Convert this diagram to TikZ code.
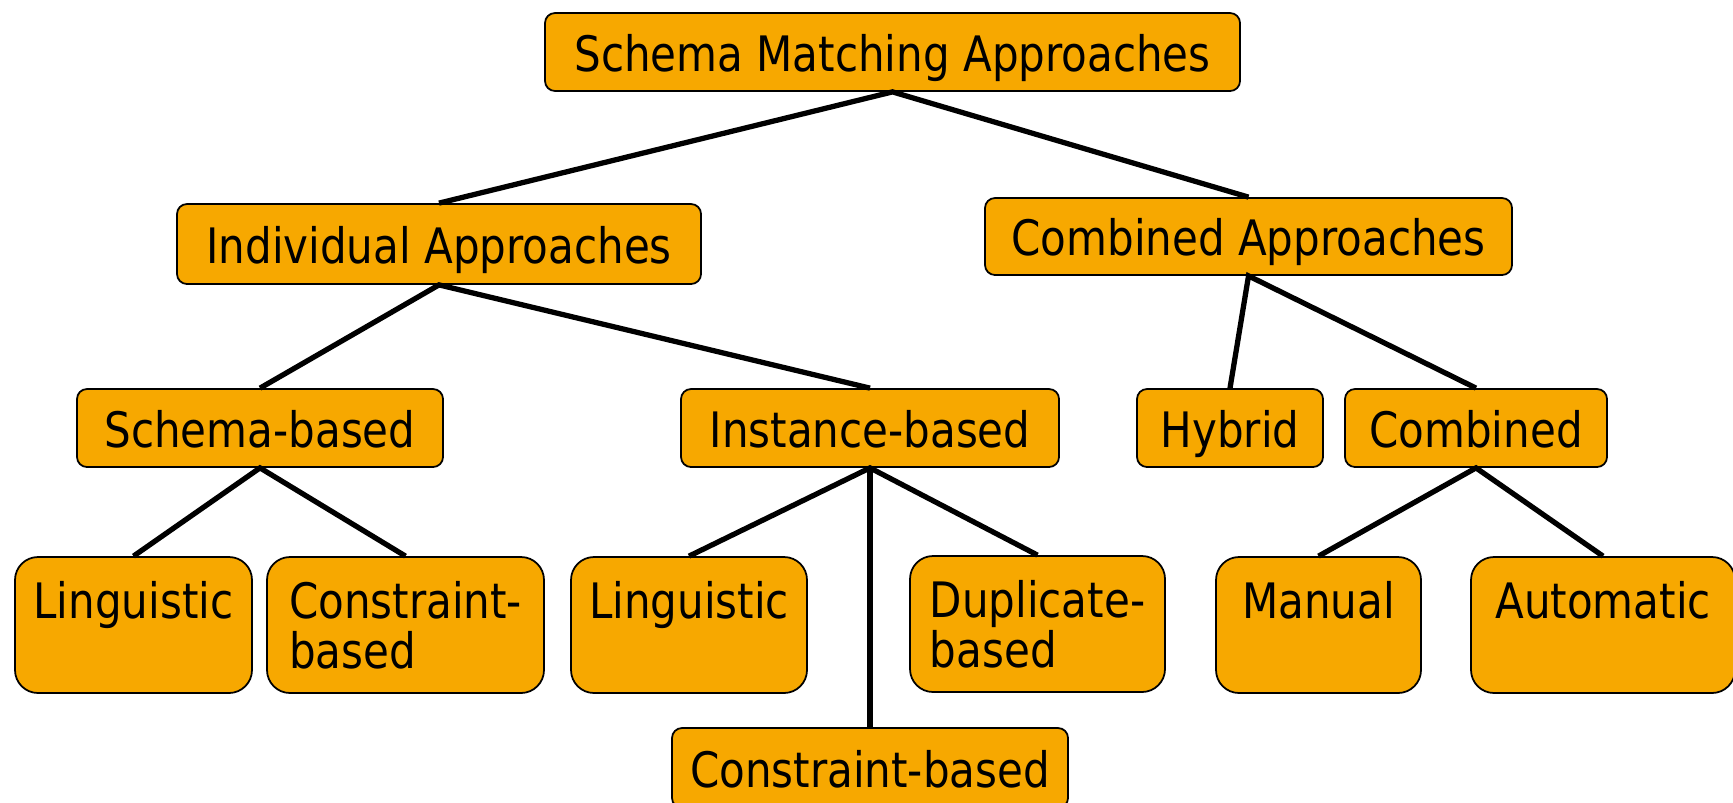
\documentclass[tikz,border=0pt]{standalone}
\usepackage{fontspec}
\setmainfont{DejaVu Sans}[FakeStretch=0.86]
\definecolor{boxorange}{RGB}{247,168,0}

\begin{document}
\begin{tikzpicture}[
  base/.style={draw, line width=0.5pt, fill=boxorange, inner sep=0pt,
    font=\fontsize{13.9}{14.2}\selectfont},
  box/.style={base, rounded corners=0.1cm, minimum height=0.78cm,
    text height=0.5cm, text depth=0.12cm},
  leaf/.style={base, rounded corners=0.23cm, minimum height=1.36cm, align=left},
  link/.style={line width=1.5pt}]
\useasboundingbox (0,0) rectangle (17.33,-8.02);
% top levels
\node[box, minimum width=6.95cm] (root) at (8.925,-0.52) {Schema Matching Approaches};
\node[box, minimum width=5.24cm, minimum height=0.80cm] (indiv) at (4.39,-2.44) {Individual Approaches};
\node[box, minimum width=5.27cm, minimum height=0.77cm] (comb) at (12.485,-2.365) {Combined Approaches};
\node[box, minimum width=3.66cm] (schema) at (2.60,-4.28) {Schema-based};
\node[box, minimum width=3.78cm] (inst) at (8.70,-4.28) {Instance-based};
\node[box, minimum width=1.86cm] (hybrid) at (12.30,-4.28) {Hybrid};
\node[box, minimum width=2.62cm] (combined) at (14.76,-4.28) {Combined};
% leaves
\node[leaf, minimum width=2.37cm] (ling1) at (1.335,-6.25) {Linguistic\\\mbox{}};
\node[leaf, minimum width=2.77cm] (cons1) at (4.055,-6.25) {Constraint-\\based};
\node[leaf, minimum width=2.36cm] (ling2) at (6.89,-6.25) {Linguistic\\\mbox{}};
\node[leaf, minimum width=2.55cm] (dup) at (10.375,-6.24) {Duplicate-\\based};
\node[box, minimum width=3.96cm, minimum height=0.80cm] (cons2) at (8.70,-7.68) {Constraint-based};
\node[leaf, minimum width=2.05cm] (manual) at (13.185,-6.25) {Manual\\\mbox{}};
\node[leaf, minimum width=2.64cm] (auto) at (16.03,-6.25) {Automatic\\\mbox{}};
% links
\draw[link] (indiv.north) -- (root.south) -- (comb.north);
\draw[link] (schema.north) -- (indiv.south) -- (inst.north);
\draw[link] (hybrid.north) -- (comb.south) -- (combined.north);
\draw[link] (ling1.north) -- (schema.south) -- (cons1.north);
\draw[link] (ling2.north) -- (inst.south) -- (dup.north);
\draw[link] (inst.south) -- (cons2.north);
\draw[link] (manual.north) -- (combined.south) -- (auto.north);
\end{tikzpicture}
\end{document}
